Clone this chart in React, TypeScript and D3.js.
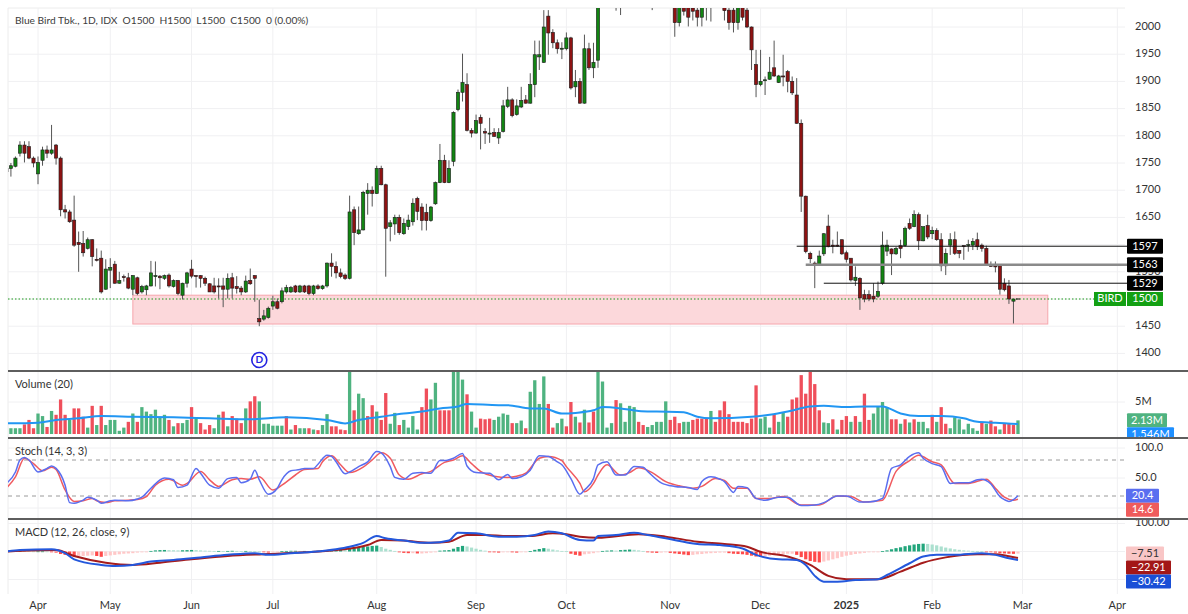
import React from "react";
import * as d3 from "d3";

// ---------------- DATA ----------------
// [open, high, low, close] per trading day (index 0 = late Mar 2024, 224 = 28 Feb 2025)
const ohlc: [number, number, number, number][] = [
  [1740,1742,1728,1734],[1740,1750,1725,1745],[1744,1762,1742,1759],[1768,1790,1762,1783],[1783,1790,1751,1768],
  [1780,1790,1757,1759],[1759,1762,1742,1750],[1730,1762,1711,1751],[1755,1780,1745,1774],[1774,1782,1759,1768],
  [1768,1820,1765,1774],[1783,1785,1747,1759],[1759,1762,1652,1664],[1664,1673,1648,1660],[1660,1664,1640,1642],
  [1645,1690,1596,1599],[1604,1624,1550,1600],[1602,1625,1578,1585],[1593,1613,1591,1609],[1609,1610,1560,1578],
  [1573,1593,1569,1572],[1575,1589,1510,1513],[1518,1573,1517,1555],[1553,1575,1520,1558],[1564,1570,1528,1529],
  [1529,1550,1528,1534],[1541,1545,1532,1540],[1539,1548,1518,1520],[1518,1544,1507,1543],[1539,1541,1507,1510],
  [1513,1526,1510,1523],[1517,1526,1507,1524],[1524,1570,1523,1548],[1541,1569,1523,1543],[1542,1544,1518,1539],
  [1538,1545,1535,1543],[1544,1547,1521,1524],[1523,1536,1521,1534],[1534,1535,1507,1510],[1507,1530,1499,1529],
  [1529,1550,1521,1548],[1555,1572,1538,1542],[1543,1544,1521,1542],[1543,1544,1521,1538],[1538,1541,1524,1529],
  [1528,1529,1513,1513],[1524,1539,1510,1513],[1524,1538,1501,1523],[1524,1539,1485,1518],[1518,1547,1501,1538],
  [1539,1548,1501,1520],[1523,1542,1510,1519],[1520,1524,1507,1513],[1513,1543,1511,1533],[1534,1556,1526,1528],
  [1543,1544,1495,1538],[1464,1499,1450,1458],[1463,1480,1460,1469],[1466,1486,1464,1483],[1487,1506,1480,1495],
  [1495,1501,1481,1483],[1495,1521,1492,1515],[1513,1526,1510,1521],[1513,1524,1511,1521],[1524,1526,1511,1513],
  [1513,1526,1511,1524],[1524,1526,1511,1513],[1524,1526,1507,1510],[1510,1526,1507,1524],[1524,1527,1517,1519],
  [1519,1526,1517,1524],[1524,1567,1521,1566],[1566,1584,1541,1560],[1560,1569,1538,1548],[1548,1556,1538,1541],
  [1544,1547,1535,1538],[1538,1690,1536,1660],[1664,1670,1599,1622],[1620,1670,1618,1627],[1627,1699,1626,1696],
  [1694,1713,1655,1700],[1700,1707,1670,1694],[1694,1745,1693,1740],[1740,1745,1709,1710],[1710,1712,1541,1630],
  [1633,1645,1606,1640],[1638,1655,1618,1650],[1650,1655,1618,1622],[1620,1648,1618,1639],[1633,1655,1627,1645],
  [1642,1685,1635,1676],[1685,1688,1645,1661],[1669,1676,1626,1644],[1659,1675,1626,1644],[1644,1671,1642,1669],
  [1675,1716,1673,1714],[1714,1785,1713,1755],[1755,1765,1713,1714],[1714,1755,1713,1740],[1753,1845,1744,1843],
  [1848,1885,1845,1880],[1880,1951,1863,1898],[1894,1915,1808,1810],[1810,1814,1797,1805],[1805,1839,1804,1828],
  [1834,1839,1775,1823],[1808,1814,1785,1805],[1805,1833,1787,1805],[1806,1814,1798,1799],[1796,1814,1785,1806],
  [1808,1866,1806,1855],[1854,1890,1851,1866],[1866,1869,1834,1837],[1839,1867,1837,1855],[1853,1890,1851,1865],
  [1866,1875,1859,1860],[1860,1915,1859,1894],[1894,1975,1871,1949],[1945,1975,1921,1949],[1935,2031,1934,2000],
  [2020,2031,1949,1989],[1990,1996,1961,1971],[1971,1977,1951,1960],[1960,1972,1941,1961],[1960,1990,1957,1980],
  [1980,1982,1885,1888],[1890,1921,1871,1900],[1900,1906,1859,1860],[1860,1986,1859,1960],[1960,1971,1921,1925],
  [1925,1971,1906,1935],[1939,2080,1925,2060],[2060,2110,2045,2090],[2090,2130,2070,2110],[2110,2120,2060,2070],
  [2070,2090,2030,2040],[2045,2080,2022,2060],[2060,2120,2055,2100],[2100,2140,2080,2120],[2120,2150,2090,2100],
  [2100,2120,2070,2080],[2080,2110,2060,2090],[2090,2100,2050,2060],[2060,2080,2031,2050],[2050,2090,2040,2080],
  [2080,2100,2050,2060],[2060,2080,2045,2070],[2070,2090,2040,2050],[2050,2060,1982,2008],[2008,2055,2001,2045],
  [2045,2060,2021,2029],[2040,2050,2001,2018],[2035,2050,2012,2029],[2031,2045,2001,2018],[2018,2050,2001,2040],
  [2045,2070,2012,2050],[2050,2070,2010,2045],[2045,2070,2035,2055],[2055,2065,2036,2045],[2045,2055,2012,2030],
  [2031,2040,1995,2008],[2031,2040,1990,2008],[2008,2050,1995,2040],[2040,2050,2012,2018],[2031,2040,1998,2000],
  [2000,2001,1921,1958],[1931,1958,1871,1894],[1894,1958,1891,1900],[1903,1909,1875,1903],[1904,1945,1903,1917],
  [1925,1975,1908,1910],[1898,1912,1897,1910],[1910,1949,1891,1909],[1918,1921,1880,1900],[1900,1909,1875,1879],
  [1875,1906,1822,1823],[1823,1830,1660,1689],[1689,1690,1584,1587],[1584,1587,1566,1574],[1566,1569,1520,1563],
  [1563,1589,1561,1579],[1583,1621,1579,1620],[1634,1655,1595,1596],[1599,1609,1584,1597],[1599,1624,1596,1598],
  [1609,1609,1581,1583],[1585,1589,1567,1573],[1575,1575,1532,1535],[1534,1560,1524,1540],[1538,1540,1480,1502],
  [1508,1517,1494,1500],[1508,1516,1496,1500],[1505,1529,1494,1500],[1505,1532,1502,1514],[1529,1624,1526,1599],
  [1588,1609,1579,1599],[1592,1593,1544,1583],[1583,1596,1581,1593],[1598,1609,1575,1593],[1598,1633,1596,1630],
  [1639,1648,1627,1630],[1633,1663,1632,1655],[1655,1659,1590,1607],[1607,1633,1606,1633],[1635,1655,1610,1614],
  [1620,1633,1610,1626],[1626,1630,1607,1609],[1609,1621,1551,1561],[1561,1593,1544,1584],[1599,1621,1581,1609],
  [1609,1624,1581,1584],[1589,1590,1575,1584],[1598,1599,1572,1597],[1599,1609,1587,1600],[1599,1612,1590,1606],
  [1609,1622,1590,1596],[1599,1602,1587,1593],[1593,1598,1561,1563],[1563,1569,1559,1560],[1561,1569,1549,1559],
  [1561,1561,1508,1518],[1529,1538,1514,1517],[1524,1535,1491,1500],[1496,1500,1455,1500],[1500,1500,1500,1500],
];

// volume in millions, per day
const volumes: number[] = [
  1.0,0.9,0.9,0.9,1.5,2.2,0.9,3.2,2.8,1.1, 3.6,3.0,5.4,3.0,2.2,4.0,4.0,2.7,1.0,4.4,
  1.4,4.4,1.4,2.2,2.2,0.5,1.0,1.9,3.2,1.9, 4.2,3.5,3.1,3.8,2.7,3.0,2.2,1.2,1.7,1.7,
  2.2,4.2,2.4,1.7,0.7,1.4,0.9,3.0,3.5,1.2, 2.8,2.4,1.7,4.0,5.1,5.9,5.1,1.6,1.6,1.3,
  1.3,1.3,2.8,0.7,1.4,0.9,0.9,0.9,0.7,0.6, 1.4,3.1,1.2,1.2,0.7,0.6,11,3.7,6.3,5.6,
  2.8,4.5,3.5,2.2,6.4,1.6,3.3,1.4,2.2,1.0, 2.8,0.7,4.2,7.1,5.4,8.0,3.7,3.7,3.7,12,
  11,8.5,6.2,3.5,1.0,2.4,2.3,2.4,2.2,2.7, 3.2,3.0,1.7,1.7,2.1,0.9,6.6,8.4,4.7,9.0,
  4.7,1.0,1.7,2.4,1.2,5.0,2.7,1.8,3.8,1.8, 3.5,11,8.2,1.0,1.7,5.3,4.8,1.9,4.4,4.2,
  1.9,1.4,1.1,1.4,1.9,1.9,5.1,2.2,2.7,1.7, 1.9,1.9,2.2,2.4,2.4,2.4,3.6,1.9,3.7,5.1,
  3.1,1.9,1.9,1.9,1.7,2.4,7.6,2.4,2.7,1.0, 3.1,1.9,3.3,2.7,5.4,5.7,9.2,6.3,10.5,7.8,
  3.7,1.8,1.7,2.3,0.7,2.2,2.8,1.9,2.8,1.9, 6.3,2.2,3.2,4.3,5.0,4.2,2.3,2.3,1.6,2.3,
  1.8,2.3,1.9,1.9,0.9,3.0,1.9,4.2,1.6,0.9, 2.6,2.3,0.7,1.6,0.9,0.5,1.9,1.6,2.1,1.2,
  0.7,1.7,1.6,1.4,2.13,
];
// g = up volume, r = down volume
const volumeDir =
  "ggggrrrggr" + "grrrgrrrgr" + "grgggggrgr" + "ggggggrgrg" + "grgrrrggrg" +
  "rrrgrrgggg" + "ggrgrggrgr" + "ggrrrrgrgg" + "rrgrrggrgg" + "ggrrggrrrg" +
  "ggrggrrrgg" + "ggrggrgggg" + "rrggrrgrgr" + "rggggrgggg" + "rrgggggrrr" +
  "ggrrrrgrrr" + "rrrrrrrggg" + "rggrrrrrrr" + "rggrgrrgrg" + "rrggggrrgr" +
  "grgggrgrrg" + "ggggggrgrr" + "grrrg";

// 20-day volume average, [day index, millions]
const volumeMA: [number, number][] = [
  [0,1.66],[7,1.77],[11,2.2],[16,2.45],[21,2.8],[28,2.7],[37,2.6],[45,2.45],[54,2.3],[62,2.6],[71,2.2],[75,1.66],
  [78,2.2],[83,2.7],[88,3.2],[92,3.5],[96,4.0],[100,4.3],[102,4.7],[109,4.5],[111,4.5],[116,4.0],[119,4.0],[123,3.2],
  [126,3.3],[130,3.7],[132,4.2],[136,4.0],[140,3.6],[144,3.5],[150,3.4],[153,2.7],[156,2.45],[165,2.7],[169,3.0],
  [173,3.5],[178,4.3],[181,4.4],[186,4.2],[190,4.3],[194,4.3],[198,3.2],[202,2.8],[207,2.8],[212,2.45],[215,1.9],
  [219,1.77],[224,1.546],
];

const stochK: [number, number][] = [
  [0,41],[2,60],[3,80],[4,84],[5,80],[7,60],[9,66],[10,70],[11,66],[13,38],[14,9],[15,8],[17,13],[18,18],[20,13],
  [21,8],[23,12],[24,13],[27,12],[29,15],[30,18],[32,33],[35,50],[37,47],[38,34],[40,38],[42,66],[43,58],[45,38],
  [47,33],[49,49],[51,51],[52,42],[54,48],[55,63],[56,47],[58,23],[60,33],[61,47],[63,62],[65,64],[66,66],[68,66],
  [69,73],[71,88],[72,86],[73,77],[75,57],[76,60],[78,69],[80,77],[82,94],[83,92],[85,69],[86,51],[88,48],[90,58],
  [92,59],[94,58],[96,79],[97,79],[99,83],[101,91],[102,70],[104,59],[107,58],[109,47],[111,56],[112,49],[114,52],
  [116,63],[118,87],[120,86],[122,77],[123,72],[125,49],[127,23],[128,30],[130,49],[131,72],[133,77],[135,55],
  [137,55],[139,69],[141,68],[142,61],[145,42],[148,36],[151,34],[153,31],[154,44],[156,52],[158,48],[159,44],
  [161,26],[162,36],[164,34],[166,16],[168,13],[171,18],[173,18],[176,4],[179,5],[181,9],[184,20],[186,20],[189,10],
  [191,10],[194,16],[196,66],[198,72],[200,86],[202,92],[203,83],[205,74],[207,69],[209,41],[211,42],[213,42],
  [215,47],[216,48],[218,40],[220,19],[221,14],[222,11],[223,14],[224,20.4],
];
const stochD: [number, number][] = [
  [0,33],[2,52],[4,83],[6,74],[8,62],[10,68],[11,64],[13,30],[15,11],[17,12],[19,16],[20,12],[22,9],[24,12],[27,13],
  [29,14],[31,19],[33,38],[36,48],[39,38],[40,41],[43,61],[45,47],[47,36],[50,47],[52,49],[54,48],[56,52],[59,30],
  [61,38],[64,55],[66,64],[69,66],[70,77],[72,87],[74,72],[76,59],[79,68],[81,80],[83,92],[85,83],[87,55],[89,48],
  [92,57],[94,61],[97,76],[99,80],[101,87],[103,74],[105,61],[108,53],[111,51],[113,53],[115,58],[118,83],[120,86],
  [123,79],[124,69],[127,41],[128,27],[130,41],[131,55],[133,72],[136,55],[138,59],[140,67],[143,59],[146,44],
  [149,37],[152,33],[154,36],[157,49],[159,46],[161,33],[164,33],[166,16],[169,16],[172,19],[176,5],[180,5],
  [184,20],[187,19],[190,10],[194,13],[197,61],[200,79],[202,88],[205,77],[207,72],[210,41],[213,41],[217,48],
  [219,33],[221,18],[223,13],[224,14.6],
];

const macdLine: [number, number][] = [
  [0,0],[3,5],[10,8],[13,-6],[15,-28],[21,-48],[24,-52],[28,-48],[32,-36],[37,-30],[43,-21],[49,-12],[55,-6],
  [58,-12],[63,-6],[68,-1],[73,8],[76,17],[79,31],[82,55],[84,47],[88,39],[92,31],[94,31],[98,39],[100,67],[104,65],
  [109,53],[113,53],[117,59],[120,71],[123,65],[127,41],[130,39],[131,55],[135,59],[139,67],[142,59],[146,47],
  [153,27],[158,23],[163,11],[166,-12],[171,-28],[175,-30],[177,-48],[179,-87],[181,-108],[184,-108],[188,-102],
  [193,-99],[195,-84],[200,-42],[203,-18],[206,-12],[210,-12],[216,-6],[219,-12],[222,-24],[224,-30.42],
];
const signalLine: [number, number][] = [
  [0,0],[11,5],[15,-16],[22,-40],[28,-48],[34,-40],[41,-28],[49,-16],[58,-9],[66,-3],[73,5],[80,23],[83,41],[88,39],
  [94,31],[98,35],[102,59],[106,59],[111,55],[116,55],[121,65],[124,62],[127,53],[131,49],[140,62],[146,53],
  [153,35],[159,27],[164,17],[167,-1],[173,-18],[178,-48],[182,-87],[186,-99],[193,-99],[198,-72],[203,-40],
  [208,-21],[215,-10],[219,-10],[222,-17],[224,-22.91],
];
const macdHist: number[] = [
  1,1,1.5,2,1.5,1,0.5,0.5,0.5,0.3, -1,-4,-9,-12,-15,-18,-17,-16,-15,-14,
  -16,-19,-16,-14,-12,-10,-8,-7,-6,-4, -3,-1,2,4,5,5.5,5,4.5,4,4.5,
  5,5.5,5,4,3,2.5,2,2,1.5,2, 2.5,2,1.5,2,1.5,1,0.5,-2,-4,-3,
  -2,1,2,2.5,2.5,2,2,1.5,2,2.5, 3,4,5,6,6,5,10,12,14,17,
  18,20,21,16,10,6,2,-3,-5,-6, -6,-7,-7,-6,-4,-1,3,4,5,10,
  16,20,18,14,10,6,3,-1,-3,-4, -3,-2,-3,-4,-2,-1,1,6,9,12,
  10,7,4,2,1,-8,-12,-15,-10,-8, -6,-2,2,3,4,3,5,6,7,6,
  4,2,-2,-4,-5,-4,-3,-5,-7,-9, -11,-13,-12,-10,-9,-7,-6,-5,-4,-4,
  -6,-8,-9,-10,-12,-15,-18,-19,-17,-15, -13,-11,-9,-8,-8,-12,-20,-28,-34,-37,
  -39,-36,-32,-28,-24,-19,-15,-12,-9,-7, -5,-3,-2,-1,1,4,8,12,15,19,
  22,25,27,28,27,25,22,18,14,11, 8,6,4,3,2,1.5,1,-1,-2,-4,
  -6,-7,-8,-8.5,-7.51,
];

const monthTickIdx = [7, 23, 41, 59, 82, 104, 124, 147, 167, 186, 205, 225, 246];
const monthTickLabels = ["Apr", "May", "Jun", "Jul", "Aug", "Sep", "Oct", "Nov", "Dec", "2025", "Feb", "Mar", "Apr"];
const priceGrid = [1400, 1450, 1500, 1550, 1600, 1650, 1700, 1750, 1800, 1850, 1900, 1950, 2000];
// labels that are not covered by the value boxes on the right
const priceLabels = [1400, 1450, 1650, 1700, 1750, 1800, 1850, 1900, 1950, 2000];
const levelValues = [1597, 1563, 1529];
const levelStartIdx = [175, 177, 181];
const zoneStartIdx = 28;
const zoneEndIdx = 230.6;
const zoneLow = 1454;
const zoneHigh = 1507;
const dividendIdx = 56;
const lastPrice = 1500;
const headerText = "Blue Bird Tbk., 1D, IDX  O1500  H1500  L1500  C1500  0 (0.00%)";

// ---------------- LAYOUT ----------------
const W = 1188, H = 614;
const L = 8, R = 1125;
const AX = 1135;
const FONT = "Lato, 'Open Sans', 'DejaVu Sans', sans-serif";

function stackBoxes(items: { y: number; h: number }[]) {
  let prev = -Infinity;
  return items.map((it) => {
    const top = Math.max(it.y - it.h / 2, prev);
    prev = top + it.h;
    return top;
  });
}

export default function App() {
  const x = d3.scaleLinear().domain([0, 224]).range([6.4, 6.4 + 224 * 4.516]);
  const yP = d3.scaleLinear().domain([1400, 2000]).range([353.4, 27]);
  const yV = d3.scaleLinear().domain([0, 5]).range([434, 402]);
  const yS = d3.scaleLinear().domain([0, 100]).range([508, 448]);
  const yM = d3.scaleLinear().domain([-100, 100]).range([579.5, 523.5]);

  const bw = 3.2;
  const upBody = "#128512", dnBody = "#8e1212";
  const volUp = "#4fb380", volDn = "#ef4f5b";

  const lineGen = (ys: d3.ScaleLinear<number, number>) =>
    d3.line<[number, number]>().x((d) => x(d[0])).y((d) => ys(d[1])).curve(d3.curveMonotoneX);

  const txt = { fontFamily: FONT, fontSize: 11, fill: "#333" } as const;

  const volBoxes = stackBoxes([{ y: yV(2.13), h: 14 }, { y: yV(1.546), h: 14 }]);
  const stBoxes = stackBoxes([{ y: yS(20.4), h: 14 }, { y: yS(14.6), h: 14 }]);
  const mBoxes = stackBoxes([{ y: yM(-7.51), h: 14 }, { y: yM(-22.91), h: 14 }, { y: yM(-30.42), h: 14 }]);

  return (
    <svg width={W} height={H} style={{ position: "absolute", left: 0, top: 0, background: "#fff" }}>
      <defs>
        <clipPath id="cMain"><rect x={L} y={8} width={R - L} height={362} /></clipPath>
        <clipPath id="cVol"><rect x={L} y={372} width={R - L} height={65} /></clipPath>
        <clipPath id="cVolAx"><rect x={R} y={372} width={W - R} height={65} /></clipPath>
        <clipPath id="cSt"><rect x={L} y={439} width={R - L} height={79} /></clipPath>
        <clipPath id="cM"><rect x={L} y={520} width={R - L} height={76} /></clipPath>
        <clipPath id="c1550"><rect x={1127} y={272} width={40} height={4} /></clipPath>
      </defs>
      <rect x={0} y={0} width={W} height={H} fill="#fff" />

      {/* grids */}
      <line x1={L} x2={R} y1={8} y2={8} stroke="#ececec" />
      <line x1={L} x2={L} y1={8} y2={594} stroke="#ececec" />
      {monthTickIdx.map((t, i) => (
        <line key={"vg" + i} x1={x(t)} x2={x(t)} y1={8} y2={594} stroke="#f0f0f2" />
      ))}
      {priceGrid.map((p) => (
        <line key={"hg" + p} x1={L} x2={R} y1={yP(p)} y2={yP(p)} stroke="#f0f0f2" />
      ))}
      <line x1={L} x2={R} y1={yV(5)} y2={yV(5)} stroke="#f0f0f2" />
      {[0, 50, 100].map((v) => (
        <line key={"sg" + v} x1={L} x2={R} y1={yS(v)} y2={yS(v)} stroke="#f0f0f2" />
      ))}
      {[-100, 0, 100].map((v) => (
        <line key={"mg" + v} x1={L} x2={R} y1={yM(v)} y2={yM(v)} stroke="#f0f0f2" />
      ))}

      {/* main panel */}
      <g clipPath="url(#cMain)">
        <rect x={x(zoneStartIdx)} y={yP(zoneHigh)} width={x(zoneEndIdx) - x(zoneStartIdx)}
          height={yP(zoneLow) - yP(zoneHigh)} fill="#fcd8db" stroke="#f6a6ad" strokeWidth={1} />
        <line x1={L} x2={1094} y1={yP(lastPrice)} y2={yP(lastPrice)} stroke="#1a9a1a" strokeWidth={1} strokeDasharray="1.5 2" />
        {ohlc.map((d, i) => {
          const [o, h, l, c] = d;
          const cx = x(i);
          const up = c >= o;
          const top = yP(Math.max(o, c));
          const bh = Math.max(1, yP(Math.min(o, c)) - top);
          return (
            <g key={"c" + i}>
              <line x1={cx} x2={cx} y1={yP(h)} y2={yP(l)} stroke="#555" strokeWidth={1} />
              {h === l ? (
                <rect x={cx - 2} y={top - 0.5} width={4} height={1} fill="#111" />
              ) : (
                <rect x={cx - bw / 2} y={top} width={bw} height={bh} fill={up ? upBody : dnBody}
                  stroke="#1a1a1a" strokeWidth={0.6} />
              )}
            </g>
          );
        })}
      </g>
      {levelValues.map((v, i) => (
        <line key={"lv" + i} x1={x(levelStartIdx[i])} x2={1127} y1={yP(v)} y2={yP(v)}
          stroke={i === 1 ? "#8a8a8a" : "#111"} strokeWidth={i === 1 ? 2.5 : 1} />
      ))}
      <circle cx={x(dividendIdx)} cy={360} r={7.5} fill="#fff" stroke="#2323e0" strokeWidth={1.6} />
      <text x={x(dividendIdx)} y={360.5} textAnchor="middle" dominantBaseline="middle"
        style={{ fontFamily: FONT, fontSize: 10, fontWeight: 700, fill: "#2323e0" }}>D</text>

      <text x={15} y={21} dominantBaseline="middle" xmlSpace="preserve"
        style={{ ...txt, fontSize: 10.2, fill: "#3c3c3c", whiteSpace: "pre" }}>{headerText}</text>

      {/* price axis */}
      {priceLabels.map((p) => (
        <text key={"pt" + p} x={AX} y={yP(p)} dominantBaseline="middle" style={txt}>{p}</text>
      ))}
      <g clipPath="url(#c1550)">
        <text x={AX} y={yP(1550)} dominantBaseline="middle" style={txt}>1550</text>
      </g>
      {levelValues.map((v, i) => (
        <g key={"lb" + i}>
          <rect x={1127} y={yP(v) - 7.5} width={36} height={15} fill="#000" rx={1} />
          <text x={1145} y={yP(v) + 0.5} textAnchor="middle" dominantBaseline="middle"
            style={{ ...txt, fill: "#fff" }}>{v}</text>
        </g>
      ))}
      <rect x={1094} y={yP(lastPrice) - 7} width={32} height={14} fill="#13a013" />
      <rect x={1127} y={yP(lastPrice) - 7} width={36} height={14} fill="#13a013" />
      <text x={1110} y={yP(lastPrice) + 0.5} textAnchor="middle" dominantBaseline="middle"
        style={{ ...txt, fill: "#fff" }}>BIRD</text>
      <text x={1145} y={yP(lastPrice) + 0.5} textAnchor="middle" dominantBaseline="middle"
        style={{ ...txt, fill: "#fff" }}>{lastPrice}</text>

      {/* volume */}
      <g clipPath="url(#cVol)">
        {volumes.map((v, i) => (
          <rect key={"v" + i} x={x(i) - 1.65} y={yV(v)} width={3.3} height={yV(0) - yV(v)}
            fill={volumeDir[i] === "g" ? volUp : volDn} />
        ))}
        <path d={lineGen(yV)(volumeMA) || ""} fill="none" stroke="#2196f3" strokeWidth={2} />
      </g>
      <text x={15} y={385} dominantBaseline="middle" style={txt}>Volume (20)</text>
      <text x={AX} y={yV(5)} dominantBaseline="middle" style={txt}>5M</text>
      <g clipPath="url(#cVolAx)">
        <rect x={1127} y={volBoxes[0]} width={40} height={14} fill={volUp} rx={1} />
        <text x={1147} y={volBoxes[0] + 7.5} textAnchor="middle" dominantBaseline="middle" style={{ ...txt, fill: "#fff" }}>2.13M</text>
        <rect x={1127} y={volBoxes[1]} width={47} height={14} fill="#1e8fff" rx={1} />
        <text x={1150.5} y={volBoxes[1] + 7.5} textAnchor="middle" dominantBaseline="middle" style={{ ...txt, fill: "#fff" }}>1.546M</text>
      </g>

      {/* stochastic */}
      {[80, 20].map((v) => (
        <line key={"sd" + v} x1={L} x2={R} y1={yS(v)} y2={yS(v)} stroke="#9a9a9a" strokeDasharray="4 4" />
      ))}
      <g clipPath="url(#cSt)">
        <path d={lineGen(yS)(stochD) || ""} fill="none" stroke="#f05a5f" strokeWidth={1.5} />
        <path d={lineGen(yS)(stochK) || ""} fill="none" stroke="#5a6ef0" strokeWidth={1.5} />
      </g>
      <text x={15} y={452.5} dominantBaseline="middle" style={txt}>Stoch (14, 3, 3)</text>
      <text x={AX} y={yS(100)} dominantBaseline="middle" style={txt}>100.0</text>
      <text x={AX} y={yS(50)} dominantBaseline="middle" style={txt}>50.0</text>

      {/* MACD */}
      <text x={AX} y={yM(100)} dominantBaseline="middle" style={txt}>100.00</text>
      <g clipPath="url(#cM)">
        {macdHist.map((v, i) => {
          const prev = i > 0 ? macdHist[i - 1] : 0;
          const col = v >= 0 ? (v >= prev ? "#22a67c" : "#abe0cf") : (v < prev ? "#ff4a4a" : "#ffc8c8");
          const y0 = yM(0), y1 = yM(v);
          return <rect key={"h" + i} x={x(i) - 1.6} y={Math.min(y0, y1)} width={3.2}
            height={Math.max(0.8, Math.abs(y1 - y0))} fill={col} />;
        })}
        <path d={lineGen(yM)(signalLine) || ""} fill="none" stroke="#a51c1c" strokeWidth={2} />
        <path d={lineGen(yM)(macdLine) || ""} fill="none" stroke="#2458dc" strokeWidth={2} />
      </g>
      <text x={15} y={533} dominantBaseline="middle" style={txt}>MACD (12, 26, close, 9)</text>

      {/* stoch value boxes */}
      <rect x={1126} y={stBoxes[0]} width={33} height={14} fill="#5a6ef0" rx={1} />
      <text x={1142.5} y={stBoxes[0] + 7.5} textAnchor="middle" dominantBaseline="middle" style={{ ...txt, fill: "#fff" }}>20.4</text>
      <rect x={1126} y={stBoxes[1]} width={33} height={14} fill="#ef5b5b" rx={1} />
      <text x={1142.5} y={stBoxes[1] + 7.5} textAnchor="middle" dominantBaseline="middle" style={{ ...txt, fill: "#fff" }}>14.6</text>

      {/* macd value boxes */}
      <rect x={1126} y={mBoxes[0]} width={38} height={14} fill="#f9c6c6" rx={1} />
      <text x={1145} y={mBoxes[0] + 7.5} textAnchor="middle" dominantBaseline="middle" style={{ ...txt, fill: "#333" }}>−7.51</text>
      <rect x={1126} y={mBoxes[1]} width={45} height={14} fill="#a31717" rx={1} />
      <text x={1148.5} y={mBoxes[1] + 7.5} textAnchor="middle" dominantBaseline="middle" style={{ ...txt, fill: "#fff" }}>−22.91</text>
      <rect x={1126} y={mBoxes[2]} width={45} height={14} fill="#1a4fd6" rx={1} />
      <text x={1148.5} y={mBoxes[2] + 7.5} textAnchor="middle" dominantBaseline="middle" style={{ ...txt, fill: "#fff" }}>−30.42</text>

      {/* panel separators */}
      {[371, 438, 519].map((yy) => (
        <line key={"sep" + yy} x1={L} x2={W} y1={yy} y2={yy} stroke="#5e5e5e" strokeWidth={2} />
      ))}

      {/* x axis */}
      {monthTickIdx.map((t, i) => (
        <text key={"mt" + i} x={x(t)} y={606} textAnchor="middle" dominantBaseline="middle"
          style={{ ...txt, fontWeight: monthTickLabels[i] === "2025" ? 700 : 400 }}>{monthTickLabels[i]}</text>
      ))}
    </svg>
  );
}
